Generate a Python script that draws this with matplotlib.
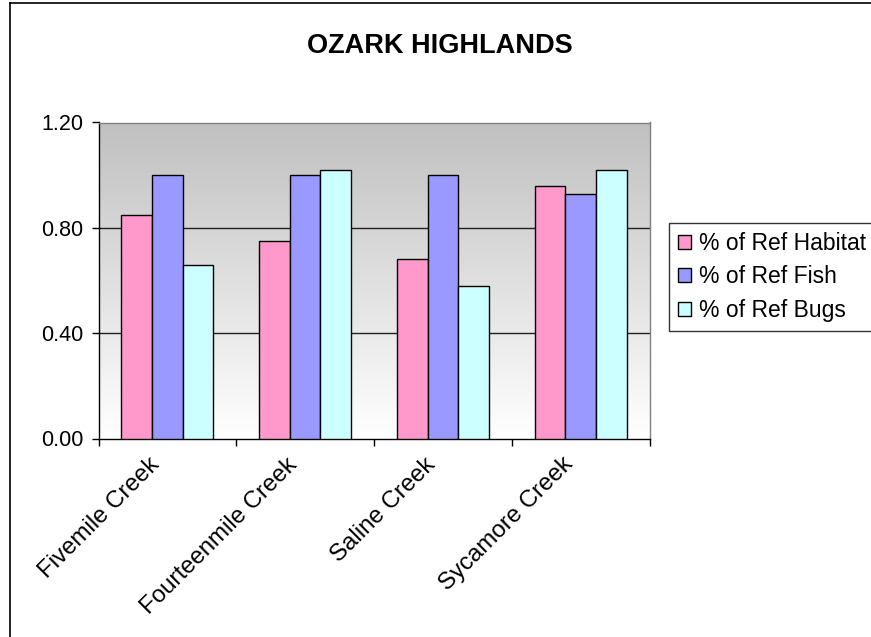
import numpy as np
import matplotlib
matplotlib.use("Agg")
import matplotlib.pyplot as plt
from matplotlib.colors import LinearSegmentedColormap
from matplotlib.lines import Line2D
import matplotlib.transforms as mtransforms

plt.rcParams['font.family'] = ['Liberation Sans', 'DejaVu Sans']

title = "OZARK HIGHLANDS"
categories = ["Fivemile Creek", "Fourteenmile Creek", "Saline Creek", "Sycamore Creek"]
series_names = ["% of Ref Habitat", "% of Ref Fish", "% of Ref Bugs"]
habitat = [0.85, 0.75, 0.68, 0.96]
fish = [1.00, 1.00, 1.00, 0.93]
bugs = [0.66, 1.02, 0.58, 1.02]
yticks = [0.0, 0.4, 0.8, 1.2]
colors = ["#FF99CC", "#9999FF", "#CCFFFF"]

W, H = 871, 637
fig = plt.figure(figsize=(W / 100, H / 100), dpi=100)
fig.patch.set_facecolor("white")

# outer chart border (left and top visible)
fig.add_artist(Line2D([9.5 / W, 9.5 / W], [-0.1, 1 - 3 / H], color="black", lw=1.2,
                      transform=fig.transFigure))
fig.add_artist(Line2D([9.5 / W, 1.1], [1 - 3 / H, 1 - 3 / H], color="black", lw=1.2,
                      transform=fig.transFigure))

ax = fig.add_axes([98.5 / W, 1 - 438.5 / H, 551 / W, 316 / H])

# gradient background
cmap = LinearSegmentedColormap.from_list("g", ["#FFFFFF", "#C0C0C0"])
grad = np.linspace(0, 1, 256).reshape(-1, 1)
ax.imshow(grad, extent=[0, 1, 0, 1], transform=ax.transAxes, cmap=cmap,
          aspect="auto", origin="lower", zorder=0)

x = np.arange(len(categories))
w = 0.2222
for i, (vals, c, name) in enumerate(zip([habitat, fish, bugs], colors, series_names)):
    ax.bar(x + (i - 1) * w, vals, width=w, color=c, edgecolor="black", linewidth=1.0,
           label=name, zorder=3)

ax.set_xlim(-0.5, len(categories) - 0.5)
ax.set_ylim(0, 1.2)
ax.set_yticks(yticks)
ax.set_yticklabels([f"{v:.2f}" for v in yticks])
for v in yticks[1:-1]:
    ax.axhline(v, color="#202020", lw=1.0, zorder=1)

ax.set_xticks(np.arange(-0.5, len(categories), 1.0))
ax.set_xticklabels([])
ax.tick_params(axis="x", which="major", direction="out", length=5, width=1, color="black")
ax.tick_params(axis="y", direction="out", length=5, width=1, color="black",
               labelsize=15.5, pad=6)

# category labels, rotated 45 degrees
lab_tr = ax.get_xaxis_transform() + mtransforms.ScaledTranslation(
    -19 / 100, -15 / 100, fig.dpi_scale_trans)
for xi, name in zip(x, categories):
    ax.text(xi, 0, name, transform=lab_tr, rotation=45, ha="right", va="top",
            rotation_mode="anchor", fontsize=17.3, clip_on=False)

for s in ["left", "bottom"]:
    ax.spines[s].set_color("black")
    ax.spines[s].set_linewidth(1.0)
for s in ["top", "right"]:
    ax.spines[s].set_color("#808080")
    ax.spines[s].set_linewidth(1.0)

fig.text(440 / W, 1 - 46 / H, title, ha="center", va="center", fontsize=19.5,
         fontweight="bold")

leg = fig.legend(loc="upper left", bbox_to_anchor=(669 / W, 1 - 223 / H),
                 fontsize=16.5, frameon=True, fancybox=False, edgecolor="black",
                 handlelength=0.55, handleheight=0.55, handletextpad=0.35,
                 labelspacing=0.45, borderpad=0.4, borderaxespad=0)
leg.get_frame().set_linewidth(1.0)

fig.savefig("out.png", dpi=100)
